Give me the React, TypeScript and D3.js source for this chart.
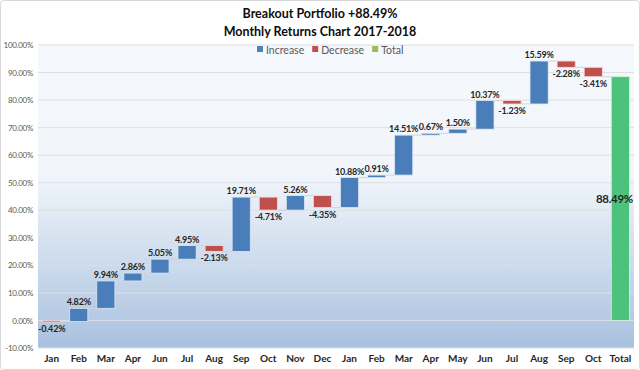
import { useEffect, useRef } from 'react'
import * as d3 from 'd3'

// monthly returns, Jan 2017 .. Oct 2018 (no May 2017)
const months = ['Jan', 'Feb', 'Mar', 'Apr', 'Jun', 'Jul', 'Aug', 'Sep', 'Oct', 'Nov', 'Dec',
  'Jan', 'Feb', 'Mar', 'Apr', 'May', 'Jun', 'Jul', 'Aug', 'Sep', 'Oct']
const returns = [-0.42, 4.82, 9.94, 2.86, 5.05, 4.95, -2.13, 19.71, -4.71, 5.26, -4.35,
  10.88, 0.91, 14.51, 0.67, 1.5, 10.37, -1.23, 15.59, -2.28, -3.41]
const totalLabel = 'Total'
const totalValue = 88.49
const legendItems = ['Increase', 'Decrease', 'Total']

const FONT = 'Lato, "Open Sans", sans-serif'

// plain hyphen for negatives, like the original
const fmt = d3.formatLocale({ decimal: '.', thousands: ',', grouping: [3], currency: ['', ''], minus: '-' }).format('.2f')
const pct = d => fmt(d) + '%'

const App = () => {
  const ref = useRef(null)

  useEffect(() => {
    document.body.style.margin = '0'
    const width = 640
    const height = 370
    const margin = { top: 45, right: 6, bottom: 22, left: 38 }

    const svg = d3.select(ref.current)
    svg.selectAll('*').remove()
    svg.attr('width', width).attr('height', height)

    const cats = [...months, totalLabel]
    const x = d3.scaleBand()
      .domain(cats.map((d, i) => String(i)))
      .range([margin.left, width - margin.right])
      .paddingInner(0.33)
      .paddingOuter(0.17)

    const y = d3.scaleLinear()
      .domain([-10, 100])
      .range([height - margin.bottom, margin.top])

    // running totals
    let run = 0
    const steps = returns.map((v, i) => {
      const start = run
      run += v
      return { i, v, start, end: run }
    })

    const defs = svg.append('defs')
    const grad = defs.append('linearGradient')
      .attr('id', 'bg').attr('x1', 0).attr('y1', 0).attr('x2', 0).attr('y2', 1)
    grad.append('stop').attr('offset', '0%').attr('stop-color', '#f5f8fc')
    grad.append('stop').attr('offset', '42%').attr('stop-color', '#f2f6fb')
    grad.append('stop').attr('offset', '100%').attr('stop-color', '#a9c1df')

    svg.append('rect')
      .attr('x', 0.5).attr('y', 0.5)
      .attr('width', width - 1).attr('height', height - 1)
      .attr('rx', 3)
      .attr('fill', '#fff').attr('stroke', '#d9d9d9')

    svg.append('rect')
      .attr('x', margin.left).attr('y', margin.top)
      .attr('width', width - margin.left - margin.right)
      .attr('height', height - margin.top - margin.bottom)
      .attr('fill', 'url(#bg)')

    // gridlines
    svg.append('g')
      .selectAll('line')
      .data(y.ticks(11))
      .join('line')
      .attr('x1', margin.left).attr('x2', width - margin.right)
      .attr('y1', d => y(d)).attr('y2', d => y(d))
      .attr('stroke', '#dcdfe4')

    // y axis
    svg.append('g')
      .attr('transform', `translate(${margin.left - 2},0)`)
      .call(d3.axisLeft(y).ticks(11).tickSize(0).tickFormat(pct))
      .call(g => g.select('.domain').remove())
      .selectAll('text')
      .attr('font-family', FONT)
      .attr('font-size', 8)
      .attr('letter-spacing', -0.3)
      .attr('fill', '#595959')

    // x axis
    svg.append('g')
      .attr('transform', `translate(0,${height - margin.bottom})`)
      .call(d3.axisBottom(x).tickSize(0).tickPadding(7).tickFormat(d => cats[+d]))
      .call(g => g.select('.domain').remove())
      .selectAll('text')
      .attr('font-family', FONT)
      .attr('font-size', 10)
      .attr('font-weight', 'bold')
      .attr('fill', '#262626')

    // connectors
    svg.append('g')
      .selectAll('line')
      .data(steps)
      .join('line')
      .attr('x1', d => x(String(d.i)) + x.bandwidth())
      .attr('x2', d => x(String(d.i + 1)))
      .attr('y1', d => y(d.end)).attr('y2', d => y(d.end))
      .attr('stroke', '#d0d4da')
      .attr('stroke-width', 1)

    // bars
    svg.append('g')
      .selectAll('rect')
      .data(steps)
      .join('rect')
      .attr('x', d => x(String(d.i)))
      .attr('width', x.bandwidth())
      .attr('y', d => y(Math.max(d.start, d.end)))
      .attr('height', d => Math.max(1.5, Math.abs(y(d.start) - y(d.end))))
      .attr('fill', d => d.v >= 0 ? '#4a7ebb' : '#c0504d')
      .attr('stroke', d => d.v >= 0 ? '#dce6f2' : '#f2dcdb')
      .attr('stroke-width', 0.8)

    svg.append('rect')
      .attr('x', x(String(months.length)))
      .attr('width', x.bandwidth())
      .attr('y', y(totalValue))
      .attr('height', y(0) - y(totalValue))
      .attr('fill', '#4cc27d')
      .attr('stroke', '#d8f2e2')
      .attr('stroke-width', 0.8)

    // data labels
    svg.append('g')
      .selectAll('text')
      .data(steps)
      .join('text')
      .attr('x', d => x(String(d.i)) + x.bandwidth() / 2)
      .attr('y', d => d.v >= 0 ? y(d.end) - 3 : y(d.end) + 10)
      .attr('text-anchor', 'middle')
      .attr('font-family', FONT)
      .attr('font-size', 9)
      .attr('font-weight', 'bold')
      .attr('letter-spacing', -0.2)
      .attr('fill', '#262626')
      .text(d => pct(d.v))

    svg.append('text')
      .attr('x', width - 7)
      .attr('y', y(totalValue / 2) + 4)
      .attr('text-anchor', 'end')
      .attr('font-family', FONT)
      .attr('font-size', 11.5)
      .attr('font-weight', 'bold')
      .attr('letter-spacing', -0.3)
      .attr('fill', '#262626')
      .text(pct(totalValue))

    // title
    const title = svg.append('text')
      .attr('text-anchor', 'middle')
      .attr('font-family', FONT)
      .attr('font-size', 12.5)
      .attr('font-weight', 'bold')
      .attr('fill', '#0d0d0d')
    title.append('tspan').attr('x', width / 2).attr('y', 18)
      .text(`Breakout Portfolio +${pct(totalValue)}`)
    title.append('tspan').attr('x', width / 2).attr('y', 36)
      .text('Monthly Returns Chart 2017-2018')

    // legend
    const colors = ['#4f81bd', '#c0504d', '#9bbb59']
    const legend = svg.append('g').attr('transform', 'translate(257,50)')
    let lx = 0
    legendItems.forEach((name, i) => {
      legend.append('rect')
        .attr('x', lx).attr('y', -4)
        .attr('width', 6).attr('height', 6)
        .attr('fill', colors[i])
      const t = legend.append('text')
        .attr('x', lx + 9).attr('y', 3.5)
        .attr('font-family', FONT)
        .attr('font-size', 10.5)
        .attr('fill', '#595959')
        .text(name)
      lx += 9 + t.node().getComputedTextLength() + 8
    })
  }, [])

  return <svg ref={ref} style={{ display: 'block' }}></svg>
}

export default App
